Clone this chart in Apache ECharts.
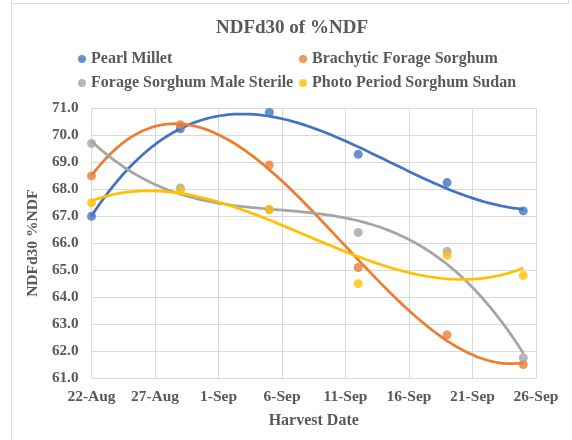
<!DOCTYPE html>
<html><head><meta charset="utf-8">
<script src="https://cdn.jsdelivr.net/npm/echarts@6/dist/echarts.min.js"></script>
<style>html,body{margin:0;padding:0;background:#fff}#c{width:572px;height:440px}</style>
</head><body><div id="c"></div>
<script>
var harvestDates = ['2023-08-22','2023-08-29','2023-09-05','2023-09-12','2023-09-19','2023-09-25'];
var pearlMillet = [67.0, 70.25, 70.85, 69.3, 68.25, 67.2];
var brachytic = [68.5, 70.4, 68.9, 65.1, 62.6, 61.5];
var maleSterile = [69.7, 68.05, 67.25, 66.4, 65.7, 61.75];
var photoPeriod = [67.5, 67.95, 67.25, 64.5, 65.55, 64.8];
var seriesNames = ['Pearl Millet','Brachytic Forage Sorghum','Forage Sorghum Male Sterile','Photo Period Sorghum Sudan'];
var colors = ['#4472C4','#ED7D31','#A5A5A5','#FFC000'];
var xTickLabels = ['22-Aug','27-Aug','1-Sep','6-Sep','11-Sep','16-Sep','21-Sep','26-Sep'];
var startDate = '2023-08-22';

function dayOffset(s){ return (Date.parse(s) - Date.parse(startDate)) / 86400000; }
var xs = harvestDates.map(dayOffset);

// least-squares cubic polynomial trendline (as in the spreadsheet chart)
function polyFit(x, y, deg){
  var n = deg+1, A = [], i, j, k;
  for(i=0;i<n;i++){ A.push([]); for(j=0;j<=n;j++) A[i].push(0); }
  for(k=0;k<x.length;k++){
    for(i=0;i<n;i++){
      for(j=0;j<n;j++) A[i][j] += Math.pow(x[k], i+j);
      A[i][n] += y[k]*Math.pow(x[k], i);
    }
  }
  for(i=0;i<n;i++){
    var p=i; for(j=i+1;j<n;j++) if(Math.abs(A[j][i])>Math.abs(A[p][i])) p=j;
    var t=A[i]; A[i]=A[p]; A[p]=t;
    for(j=i+1;j<n;j++){ var f=A[j][i]/A[i][i]; for(k=i;k<=n;k++) A[j][k]-=f*A[i][k]; }
  }
  var c=new Array(n);
  for(i=n-1;i>=0;i--){ var s=A[i][n]; for(j=i+1;j<n;j++) s-=A[i][j]*c[j]; c[i]=s/A[i][i]; }
  return c;
}
function trend(y){
  var c = polyFit(xs, y, 3), out=[];
  var x0 = xs[0], x1 = xs[xs.length-1];
  for(var x=x0; x<=x1+1e-9; x+=0.25){
    var v=0; for(var i=0;i<c.length;i++) v+=c[i]*Math.pow(x,i);
    out.push([x, v]);
  }
  return out;
}

var allData = [pearlMillet, brachytic, maleSterile, photoPeriod];
var font = 'Liberation Serif';
var txt = '#595959';
var series = [];
allData.forEach(function(d, idx){
  series.push({
    name: seriesNames[idx]+' trend', type:'line', data: trend(d), showSymbol:false, symbol:'none',
    smooth:false, lineStyle:{color:colors[idx], width:2.75}, itemStyle:{color:colors[idx]}, z:2, silent:true
  });
});
allData.forEach(function(d, idx){
  series.push({
    name: seriesNames[idx], type:'scatter', symbol:'circle', symbolSize:9,
    data: d.map(function(v,i){ return [xs[i], v]; }),
    itemStyle:{color:colors[idx]}, z:3
  });
});

var legendPos = [[78,51],[299,51],[78,75],[299,75]];
var legends = seriesNames.map(function(n,i){
  return {data:[n], left:legendPos[i][0], top:legendPos[i][1], padding:0, icon:'circle', itemWidth:8, itemHeight:8, itemGap:4,
    textStyle:{fontFamily:font, fontWeight:'bold', fontSize:16, color:txt, padding:[0,0,0,0]}};
});

var chart = echarts.init(document.getElementById('c'));
chart.setOption({
  animation:false,
  backgroundColor:'#fff',
  title:{text:'NDFd30 of %NDF', left:216, top:19, padding:0, textStyle:{fontFamily:font, fontWeight:'bold', fontSize:19, color:txt}},
  legend: legends,
  grid:{left:91.5, right:36, top:108.5, bottom:62},
  xAxis:{type:'value', min:0, max:35, interval:5,
    axisLine:{show:true, lineStyle:{color:'#d9d9d9'}}, axisTick:{show:false},
    splitLine:{show:true, lineStyle:{color:'#d9d9d9', width:1}},
    axisLabel:{formatter:function(v){ return xTickLabels[Math.round(v/5)] || ''; }, fontFamily:font, fontWeight:'bold', fontSize:15.5, color:txt, margin:11},
    name:'Harvest Date', nameLocation:'middle', nameGap:35,
    nameTextStyle:{fontFamily:font, fontWeight:'bold', fontSize:16, color:txt}},
  yAxis:{type:'value', min:61, max:71, interval:1,
    axisLine:{show:true, lineStyle:{color:'#d9d9d9'}}, axisTick:{show:false},
    splitLine:{show:true, lineStyle:{color:'#d9d9d9', width:1}},
    axisLabel:{formatter:function(v){ return v.toFixed(1); }, fontFamily:font, fontWeight:'bold', fontSize:15.2, color:txt, margin:13},
    name:'NDFd30 %NDF', nameLocation:'middle', nameGap:41,
    nameTextStyle:{fontFamily:font, fontWeight:'bold', fontSize:15.5, color:txt}},
  graphic:[
    {type:'line', shape:{x1:11.5,y1:0,x2:11.5,y2:440}, style:{stroke:'#d9d9d9', lineWidth:1}, silent:true},
    {type:'line', shape:{x1:11,y1:3.5,x2:569,y2:3.5}, style:{stroke:'#d9d9d9', lineWidth:1}, silent:true},
    {type:'line', shape:{x1:568.5,y1:0,x2:568.5,y2:3.5}, style:{stroke:'#d9d9d9', lineWidth:1}, silent:true}
  ],
  series: series
});
</script></body></html>
